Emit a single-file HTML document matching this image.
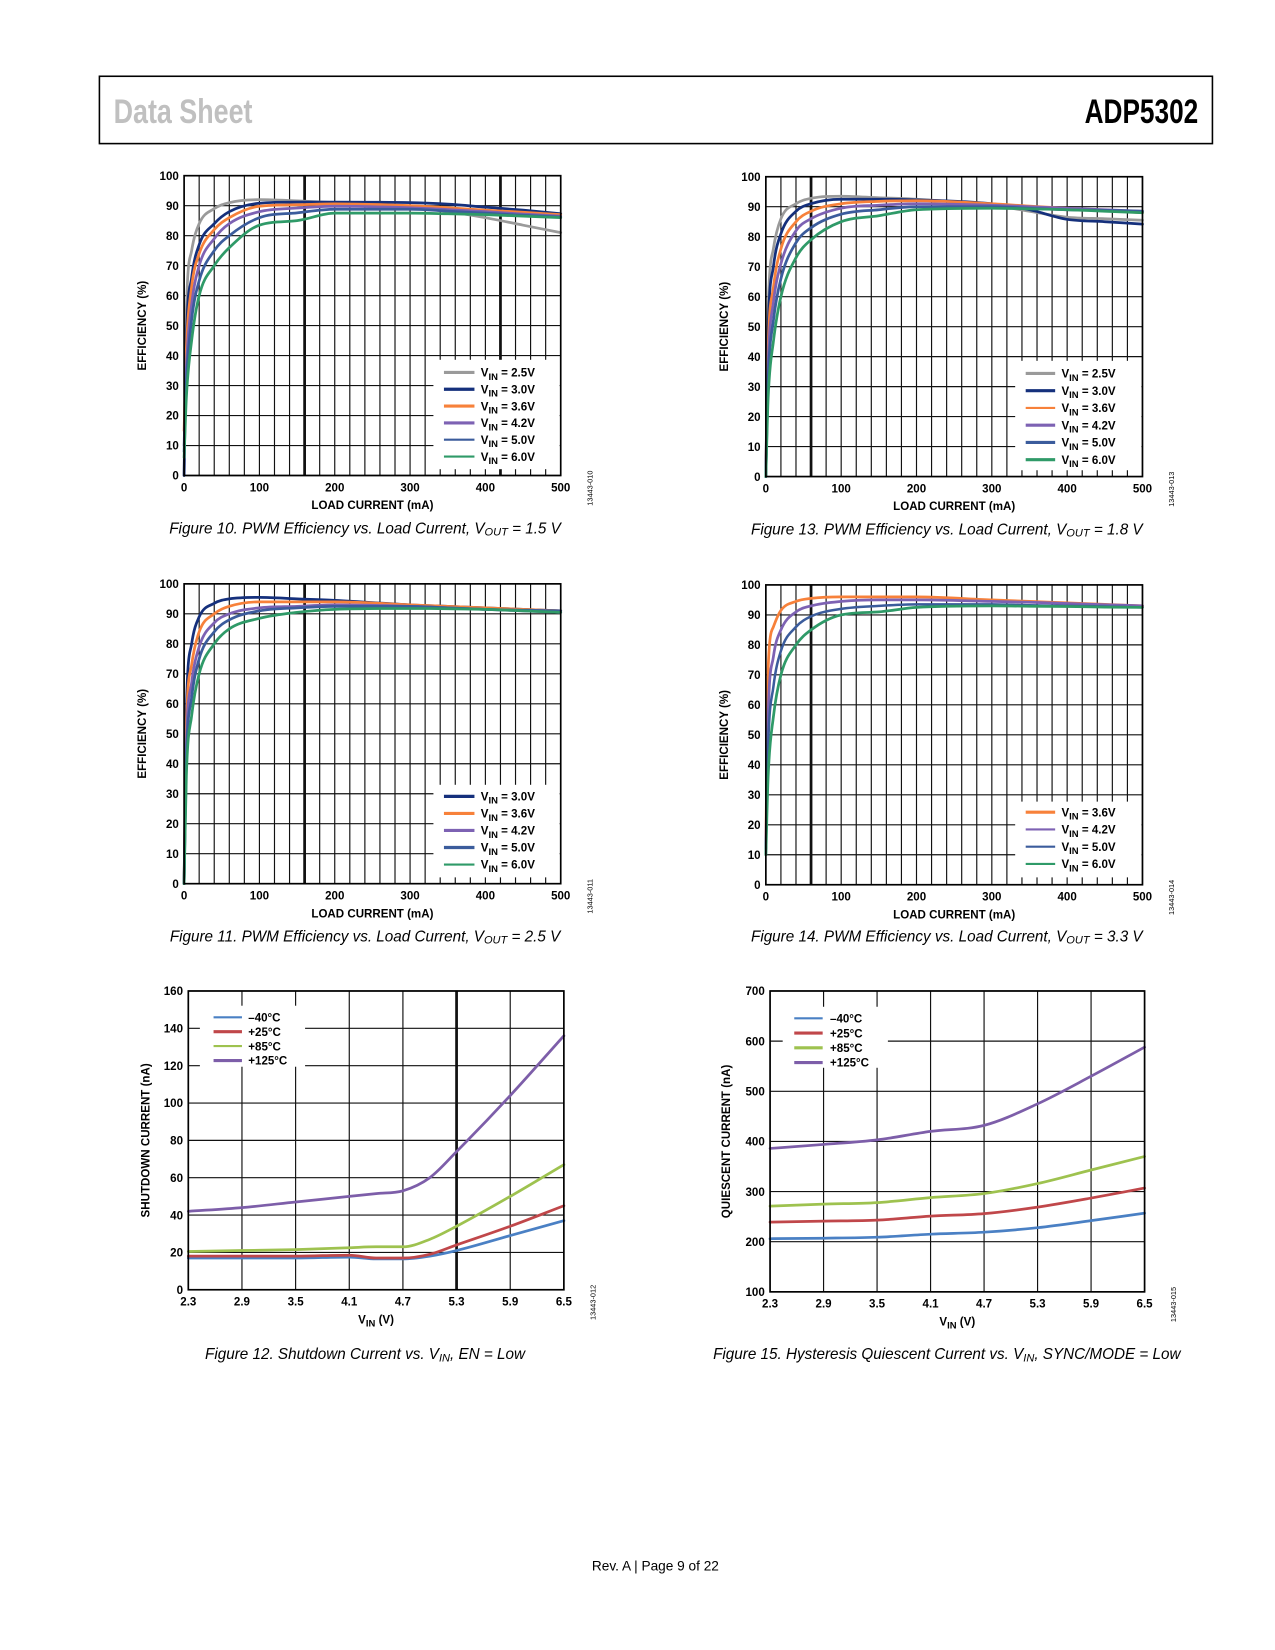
<!DOCTYPE html>
<html><head><meta charset="utf-8">
<style>
html,body{margin:0;padding:0;background:#fff;}
#page{position:relative;width:1275px;height:1650px;overflow:hidden;font-family:"Liberation Sans",sans-serif;}
svg text{font-family:"Liberation Sans",sans-serif;}
</style></head>
<body>
<div id="page">
<svg width="1275" height="1650" viewBox="0 0 1275 1650" xmlns="http://www.w3.org/2000/svg">
 <g id="svg" transform="scale(1.052)">
  <rect x="94.5" y="72.5" width="1058" height="64" fill="none" stroke="#000" stroke-width="1.5"/>
  <text x="108" y="117" font-size="33" font-weight="bold" fill="#c0c0c0" textLength="132" lengthAdjust="spacingAndGlyphs">Data Sheet</text>
  <text x="1031" y="117" font-size="33" font-weight="bold" textLength="108" lengthAdjust="spacingAndGlyphs">ADP5302</text>
  <text x="623" y="1493" font-size="13" text-anchor="middle">Rev. A | Page 9 of 22</text>
 </g>
</svg>
</div>
<script>
// ---- Data ----
const effX = [0,3,10,20,40,60,100,150,200,300,350,400,450,500];
const effTicksX = [0,100,200,300,400,500];
const effTicksY = [0,10,20,30,40,50,60,70,80,90,100];

const f10Names = ["2.5V","3.0V","3.6V","4.2V","5.0V","6.0V"];
const f10_v25 = [0,55,75,84,89,91,92,91.6,91,89.5,88,86,83.5,81];
const f10_v30 = [0,45,66,77,84,88,90.8,91.2,91.2,91,90.5,89.5,88.5,87.3];
const f10_v36 = [15,42,63,74,82,86,89.8,90.3,90.6,90,89.3,88.5,87.8,87];
const f10_v42 = [10,36,57,70,79,84,88,89.2,89.8,89.3,88.7,88,87.2,86.5];
const f10_v50 = [8,31,52,65,75,80,86,87.6,88.8,88.8,88.2,87.5,86.8,86.2];
const f10_v60 = [6,26,45,60,70,76,83.5,85,87.5,87.5,87.3,87,86.5,86];

const f13Names = ["2.5V","3.0V","3.6V","4.2V","5.0V","6.0V"];
const f13_v25 = [0,55,76,86,91,92.8,93.5,93,92.5,90.5,88.5,86.5,86,85.5];
const f13_v30 = [0,48,70,81,88.5,91,92.5,92.5,92.3,91,89,85.8,85,84.2];
const f13_v36 = [0,42,63,76,85,88.5,91,91.8,92,91,90.2,89.5,88.8,88];
const f13_v42 = [0,37,58,71,82,86,89.5,90.5,91,90.5,90,89.5,89,88.5];
const f13_v50 = [0,32,52,66,78,83,87.5,89,90,90,89.5,89,88.8,88.5];
const f13_v60 = [0,26,45,60,73,79,85,87,89,89.5,89.3,89,88.5,88];

const f11Names = ["3.0V","3.6V","4.2V","5.0V","6.0V"];
const f11_v30 = [0,58,80,89,93.5,95,95.5,95,94.5,93,92.5,92,91.5,91];
const f11_v36 = [0,52,73,84,90,92.5,94,94,94,93,92.5,92,91.5,91];
const f11_v42 = [0,46,67,79,87,90,92,92.5,93,92.5,92,91.5,91,90.5];
const f11_v50 = [0,41,62,75,84,88,91,92,92.5,92.5,92,91.5,91.2,91];
const f11_v60 = [0,36,56,70,80,85,88.5,90.5,91.5,91.8,91.7,91.5,91,90.5];

const f14Names = ["3.6V","4.2V","5.0V","6.0V"];
const f14_v36 = [12,72,86,91.5,94.5,95.5,96,96,96,95,94.5,94,93.5,93];
const f14_v42 = [12,56,76,85,91,93,94.5,95,95,94.5,94.2,93.8,93.4,93];
const f14_v50 = [10,46,66,78,86,89.5,92,93,93.5,93.5,93.2,93,92.8,92.5];
const f14_v60 = [10,36,56,70,80,85,90,91,92.5,93,92.9,92.8,92.6,92.5];

const vinTicks = [2.3,2.9,3.5,4.1,4.7,5.3,5.9,6.5];
const tempNames = ["\u201340\u00b0C","+25\u00b0C","+85\u00b0C","+125\u00b0C"];
const f12X = [2.3,2.9,3.5,4.1,4.4,4.7,5.0,5.3,5.9,6.5];
const f12_m40 = [17,17,17,17.5,16.5,16.5,18,21,29,37];
const f12_p25 = [18,18,18,18.5,17,17,19,24,34,45];
const f12_p85 = [20.5,21,21.5,22.5,23,23,27,34,50,67];
const f12_p125 = [42,44,47,50,51.5,53,60,74,104,136];
const f12TicksY = [0,20,40,60,80,100,120,140,160];

const f15X = [2.3,2.9,3.5,4.1,4.7,5.3,5.9,6.5];
const f15_m40 = [206,207,209,215,219,228,242,257];
const f15_p25 = [239,241,243,251,256,269,287,307];
const f15_p85 = [271,275,278,288,296,316,343,370];
const f15_p125 = [386,394,403,420,432,475,530,588];
const f15TicksY = [100,200,300,400,500,600,700];

// ---- Rendering ----
const NS = "http://www.w3.org/2000/svg";
const svg = document.getElementById("svg");
function mk(tag, attrs, parent){
  const e = document.createElementNS(NS, tag);
  for (const k in attrs) e.setAttribute(k, attrs[k]);
  (parent||svg).appendChild(e);
  return e;
}
function monoPath(pts){
  const n = pts.length; if (n<2) return "";
  const dx=[], m=[], t=[];
  for (let i=0;i<n-1;i++){ dx[i]=pts[i+1][0]-pts[i][0]; m[i]=(pts[i+1][1]-pts[i][1])/dx[i]; }
  t[0]=m[0]; t[n-1]=m[n-2];
  for (let i=1;i<n-1;i++){ t[i]=(m[i-1]*m[i]<=0)?0:(m[i-1]+m[i])/2; }
  for (let i=0;i<n-1;i++){
    if (m[i]===0){t[i]=0;t[i+1]=0;continue;}
    const a=t[i]/m[i], b=t[i+1]/m[i], s=a*a+b*b;
    if (s>9){const tau=3/Math.sqrt(s);t[i]=tau*a*m[i];t[i+1]=tau*b*m[i];}
  }
  let d="M"+pts[0][0].toFixed(2)+","+pts[0][1].toFixed(2);
  for (let i=0;i<n-1;i++){
    const h=dx[i];
    d+=" C"+(pts[i][0]+h/3).toFixed(2)+","+(pts[i][1]+t[i]*h/3).toFixed(2)+" "+
       (pts[i+1][0]-h/3).toFixed(2)+","+(pts[i+1][1]-t[i+1]*h/3).toFixed(2)+" "+
       pts[i+1][0].toFixed(2)+","+pts[i+1][1].toFixed(2);
  }
  return d;
}

function chart(c){
  const g = mk("g",{});
  
  
  const sx = v => c.x0 + (v-c.xmin)/(c.xmax-c.xmin)*(c.x1-c.x0);
  const sy = v => c.y1 - (v-c.ymin)/(c.ymax-c.ymin)*(c.y1-c.y0);
  const grid = mk("g",{},g);
  
  
  c.vgrid.forEach(v=>{
    const thick = c.thick.indexOf(v)>=0;
    mk("line",{x1:sx(v),x2:sx(v),y1:c.y0,y2:c.y1,stroke:"#111","stroke-width":thick?2.6:1.1},grid);
  });
  c.hgrid.forEach(v=>{
    mk("line",{x1:c.x0,x2:c.x1,y1:sy(v),y2:sy(v),stroke:"#111","stroke-width":1.1},grid);
  });
  const lg = c.legend;
  mk("rect",{x:lg.bx,y:lg.by,width:lg.bw,height:lg.bh,fill:"#fff"},g);
  c.series.forEach((s,i)=>{
    const pts = s.y.map((v,j)=>[sx(c.xs[j]), sy(v)]);
    const p = mk("path",{d:monoPath(pts),fill:"none",stroke:s.color,"stroke-width":s.w||2.6,"stroke-linejoin":"round","stroke-linecap":"round"},g);
    
    
  });
  const fr = mk("rect",{x:c.x0,y:c.y0,width:c.x1-c.x0,height:c.y1-c.y0,fill:"none",stroke:"#000","stroke-width":1.6},g);
  
  
  c.series.forEach((s,i)=>{
    const y = lg.y + i*lg.dy;
    const ln = mk("line",{x1:lg.lx0,x2:lg.lx1,y1:y,y2:y,stroke:s.color,"stroke-width":s.lw||3},g);
    
    
    const t = mk("text",{x:lg.tx,y:y+4,"font-size":11,"font-weight":"bold"},g);
    
    
    if (c.vin){
      t.appendChild(document.createTextNode("V"));
      const sub = mk("tspan",{dy:3,"font-size":9},t); sub.textContent="IN";
      const rest = mk("tspan",{dy:-3},t); rest.textContent=" = "+s.label;
    } else t.textContent = s.label;
  });
  c.xticks.forEach(v=>{
    const t = mk("text",{x:sx(v),y:c.y1+15,"font-size":11,"font-weight":"bold","text-anchor":"middle"},g);
    
    
    t.textContent = c.xfmt ? c.xfmt(v) : v;
  });
  c.yticks.forEach(v=>{
    const t = mk("text",{x:c.x0-5,y:sy(v)+4,"font-size":11,"font-weight":"bold","text-anchor":"end"},g);
    
    
    t.textContent = v;
  });
  const xt = mk("text",{x:(c.x0+c.x1)/2,y:c.y1+32,"font-size":11,"font-weight":"bold","text-anchor":"middle"},g);
  
  
  if (c.xtitleVin){
    xt.appendChild(document.createTextNode("V"));
    const sub = mk("tspan",{dy:3,"font-size":9},xt); sub.textContent="IN";
    const rest = mk("tspan",{dy:-3},xt); rest.textContent=" (V)";
  } else xt.textContent = c.xtitle;
  const yc = (c.y0+c.y1)/2, yx = c.ytx;
  const yt = mk("text",{x:yx,y:yc,"font-size":11,"font-weight":"bold","text-anchor":"middle",transform:"rotate(-90 "+yx+" "+yc+")"},g);
  
  
  yt.textContent = c.ytitle;
  const cx = c.x1+30, cy = c.y1+12;
  const sc = mk("text",{x:cx,y:cy,"font-size":7,"text-anchor":"middle",transform:"rotate(-90 "+cx+" "+cy+")"},g);
  
  
  sc.textContent = c.code;
  const cap = mk("text",{x:c.capx,y:c.capy,"font-size":14.5,"font-style":"italic","text-anchor":"middle"},g);
  
  
  cap.appendChild(document.createTextNode(c.cap1));
  if (c.capSub){
    const sub = mk("tspan",{dy:2,"font-size":10.5},cap); sub.textContent=c.capSub;
    const rest = mk("tspan",{dy:-2},cap); rest.textContent=c.cap2;
  }
}

const range = (a,b,s)=>{const r=[];for(let v=a;v<=b+1e-9;v+=s)r.push(+v.toFixed(3));return r;};
const C = {gray:"#9a9a9a",navy:"#15307c",orange:"#f7813a",purple:"#7d62b3",blue:"#3b5c9c",green:"#2f9a68"};
const T = {m40:"#4a80c4",p25:"#c0474a",p85:"#9ec24f",p125:"#7d5ea9"};

function effChart(o){
  chart(Object.assign({xmin:0,xmax:500,ymin:0,ymax:100,xs:effX,vgrid:range(0,500,20),hgrid:range(0,100,10),
    xticks:effTicksX,yticks:effTicksY,xtitle:"LOAD CURRENT (mA)",ytitle:"EFFICIENCY (%)",vin:true},o));
}

effChart({name:"chart-fig10",x0:175,x1:533,y0:167,y1:452,thick:[160,420],ytx:139,code:"13443-010",
  capx:347,capy:507,cap1:"Figure 10. PWM Efficiency vs. Load Current, V",capSub:"OUT",cap2:" = 1.5 V",
  legend:{bx:412,by:342,bw:120,bh:104,y:354,dy:16,lx0:422,lx1:451,tx:457},
  series:[{label:f10Names[0],y:f10_v25,color:C.gray},{label:f10Names[1],y:f10_v30,color:C.navy},
    {label:f10Names[2],y:f10_v36,color:C.orange},{label:f10Names[3],y:f10_v42,color:C.purple},
    {label:f10Names[4],y:f10_v50,color:C.blue,lw:2},{label:f10Names[5],y:f10_v60,color:C.green,lw:2}]});

effChart({name:"chart-fig13",x0:728,x1:1086,y0:168,y1:453,thick:[60],ytx:692,code:"13443-013",
  capx:900,capy:508,cap1:"Figure 13. PWM Efficiency vs. Load Current, V",capSub:"OUT",cap2:" = 1.8 V",
  legend:{bx:965,by:343,bw:120,bh:104,y:355,dy:16.4,lx0:975,lx1:1003,tx:1009},
  series:[{label:f13Names[0],y:f13_v25,color:C.gray},{label:f13Names[1],y:f13_v30,color:C.navy},
    {label:f13Names[2],y:f13_v36,color:C.orange,lw:2},{label:f13Names[3],y:f13_v42,color:C.purple},
    {label:f13Names[4],y:f13_v50,color:C.blue},{label:f13Names[5],y:f13_v60,color:C.green}]});

effChart({name:"chart-fig11",x0:175,x1:533,y0:555,y1:840,thick:[160],ytx:139,code:"13443-011",
  capx:347,capy:895,cap1:"Figure 11. PWM Efficiency vs. Load Current, V",capSub:"OUT",cap2:" = 2.5 V",
  legend:{bx:412,by:746,bw:120,bh:88,y:757,dy:16.2,lx0:422,lx1:451,tx:457},
  series:[{label:f11Names[0],y:f11_v30,color:C.navy},{label:f11Names[1],y:f11_v36,color:C.orange},
    {label:f11Names[2],y:f11_v42,color:C.purple},{label:f11Names[3],y:f11_v50,color:C.blue},
    {label:f11Names[4],y:f11_v60,color:C.green,lw:2}]});

effChart({name:"chart-fig14",x0:728,x1:1086,y0:556,y1:841,thick:[60],ytx:692,code:"13443-014",
  capx:900,capy:895,cap1:"Figure 14. PWM Efficiency vs. Load Current, V",capSub:"OUT",cap2:" = 3.3 V",
  legend:{bx:965,by:762,bw:120,bh:72,y:772,dy:16.4,lx0:975,lx1:1003,tx:1009},
  series:[{label:f14Names[0],y:f14_v36,color:C.orange},{label:f14Names[1],y:f14_v42,color:C.purple,lw:2},
    {label:f14Names[2],y:f14_v50,color:C.blue,lw:2,w:2.4},{label:f14Names[3],y:f14_v60,color:C.green,lw:2}]});

chart({name:"chart-fig12",x0:179,x1:536,y0:942,y1:1226,xmin:2.3,xmax:6.5,ymin:0,ymax:160,xs:f12X,
  vgrid:vinTicks,hgrid:f12TicksY,thick:[5.3],xticks:vinTicks,yticks:f12TicksY,xfmt:v=>v.toFixed(1),
  xtitleVin:true,ytitle:"SHUTDOWN CURRENT (nA)",ytx:142,code:"13443-012",
  capx:347,capy:1292,cap1:"Figure 12. Shutdown Current vs. V",capSub:"IN",cap2:", EN = Low",
  legend:{bx:190,by:956,bw:100,bh:58,y:967,dy:13.7,lx0:203,lx1:230,tx:236},
  series:[{label:tempNames[0],y:f12_m40,color:T.m40,lw:2},{label:tempNames[1],y:f12_p25,color:T.p25},
    {label:tempNames[2],y:f12_p85,color:T.p85,lw:2},{label:tempNames[3],y:f12_p125,color:T.p125}]});

chart({name:"chart-fig15",x0:732,x1:1088,y0:942,y1:1228,xmin:2.3,xmax:6.5,ymin:100,ymax:700,xs:f15X,
  vgrid:vinTicks,hgrid:f15TicksY,thick:[],xticks:vinTicks,yticks:f15TicksY,xfmt:v=>v.toFixed(1),
  xtitleVin:true,ytitle:"QUIESCENT CURRENT (nA)",ytx:694,code:"13443-015",
  capx:900,capy:1292,cap1:"Figure 15. Hysteresis Quiescent Current vs. V",capSub:"IN",cap2:", SYNC/MODE = Low",
  legend:{bx:744,by:957,bw:100,bh:58,y:968,dy:14,lx0:755,lx1:782,tx:789},
  series:[{label:tempNames[0],y:f15_m40,color:T.m40,lw:2},{label:tempNames[1],y:f15_p25,color:T.p25},
    {label:tempNames[2],y:f15_p85,color:T.p85},{label:tempNames[3],y:f15_p125,color:T.p125}]});
</script>
</body></html>
